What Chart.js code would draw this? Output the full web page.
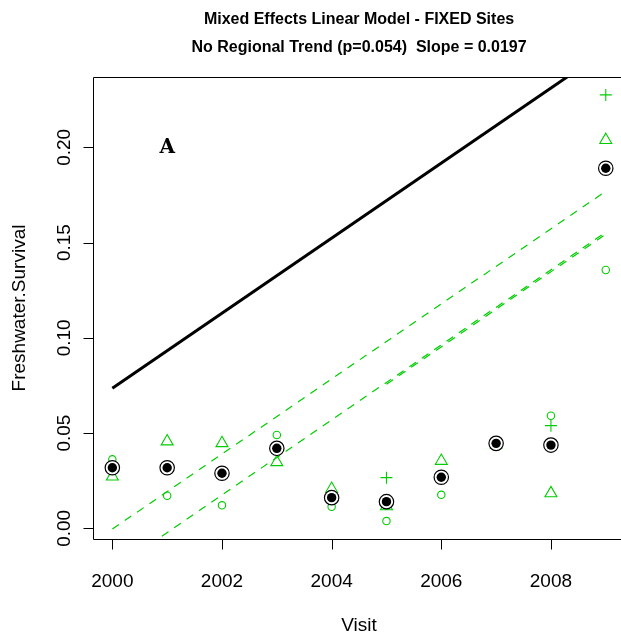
<!DOCTYPE html>
<html>
<head>
<meta charset="utf-8">
<script src="https://cdn.jsdelivr.net/npm/chart.js@4/dist/chart.umd.min.js"></script>
<style>
  html, body { margin: 0; padding: 0; background: #fff; overflow: hidden; width: 621px; height: 637px; }
  #wrap { position: absolute; left: 0; top: 0; width: 640px; height: 637px; }
</style>
</head>
<body>
<div id="wrap"><canvas id="c" width="640" height="637"></canvas></div>
<script>
// Survival by visit year, three sites plus the yearly mean
const years        = [2000, 2001, 2002, 2003, 2004, 2005, 2006, 2007, 2008, 2009];
const siteCircle   = [0.0362, 0.0171, 0.0121, 0.0490, 0.0113, 0.0038, 0.0176, 0.0448, 0.0591, 0.1356];
const siteTriangle = [0.0272, 0.0456, 0.0447, 0.0347, 0.0207, 0.0116, 0.0354, 0.0440, 0.0184, 0.2038];
const sitePlus     = [null, null, null, null, null, 0.0266, null, 0.0450, 0.0539, 0.2275];
const yearMean     = [0.0318, 0.0318, 0.0289, 0.0420, 0.0161, 0.0140, 0.0268, 0.0446, 0.0437, 0.1890];

// Fixed-effect fit and per-site fitted lines (slope 0.0197 per year)
const fixedX     = [2000, 2009];
const fixedY     = [0.0735, 0.2508];
const siteUpperX = [2000, 2009];
const siteUpperY = [-0.0004, 0.1769];
const siteLowerX = [2000, 2009];
const siteLowerY = [-0.0219, 0.1554];
const sitePlusX  = [2005, 2009];
const sitePlusY  = [0.0756, 0.1544];

// Axis ticks
const xTicks = [2000, 2002, 2004, 2006, 2008];
const xTickLabels = ['2000', '2002', '2004', '2006', '2008'];
const yTicks = [0, 0.05, 0.10, 0.15, 0.20];
const yTickLabels = ['0.00', '0.05', '0.10', '0.15', '0.20'];

const titleLines = ['Mixed Effects Linear Model - FIXED Sites', 'No Regional Trend (p=0.054)  Slope = 0.0197'];
const xTitle = 'Visit';
const yTitle = 'Freshwater.Survival';
const panelTag = { x: 2001, y: 0.20, text: 'A' };

const GREEN = '#00CD00';
const pts = (xs, ys) => xs.map((x, i) => ({ x, y: ys[i] })).filter(p => p.y !== null);

const rFrame = {
  id: 'rFrame',
  afterDraw(chart) {
    const { ctx, chartArea: a, scales: { x, y } } = chart;
    ctx.save();
    ctx.strokeStyle = '#000';
    ctx.fillStyle = '#000';
    ctx.lineWidth = 1;
    const L = Math.round(a.left) + 0.5, T = Math.round(a.top) + 0.5;
    const R = Math.round(a.right) + 0.5, B = Math.round(a.bottom) + 0.5;
    ctx.beginPath();
    ctx.moveTo(R, T); ctx.lineTo(L, T); ctx.lineTo(L, B); ctx.lineTo(R, B);
    ctx.stroke();

    // bottom axis
    ctx.beginPath();
    xTicks.forEach(v => {
      const px = Math.round(x.getPixelForValue(v)) + 0.5;
      ctx.moveTo(px, B); ctx.lineTo(px, B + 10);
    });
    // left axis
    yTicks.forEach(v => {
      const py = Math.round(y.getPixelForValue(v)) + 0.5;
      ctx.moveTo(L, py); ctx.lineTo(L - 10, py);
    });
    ctx.stroke();

    ctx.font = '19px "Liberation Sans", Arial, sans-serif';
    ctx.textAlign = 'center';
    ctx.textBaseline = 'alphabetic';
    xTicks.forEach((v, i) => ctx.fillText(xTickLabels[i], x.getPixelForValue(v), 587));
    yTicks.forEach((v, i) => {
      ctx.save();
      ctx.translate(70, y.getPixelForValue(v));
      ctx.rotate(-Math.PI / 2);
      ctx.fillText(yTickLabels[i], 0, 0);
      ctx.restore();
    });

    const cx = (a.left + a.right) / 2, cy = (a.top + a.bottom) / 2;
    ctx.fillText(xTitle, cx, 631);
    ctx.save();
    ctx.translate(25, cy);
    ctx.rotate(-Math.PI / 2);
    ctx.fillText(yTitle, 0, 0);
    ctx.restore();

    ctx.font = 'bold 16px "Liberation Sans", Arial, sans-serif';
    ctx.textBaseline = 'middle';
    ctx.fillText(titleLines[0], cx, 20);
    ctx.fillText(titleLines[1], cx, 48);

    ctx.font = 'bold 20px "DejaVu Serif", "Liberation Serif", serif';
    ctx.fillText(panelTag.text, x.getPixelForValue(panelTag.x), y.getPixelForValue(panelTag.y));
    ctx.restore();
  }
};

new Chart(document.getElementById('c'), {
  type: 'scatter',
  data: {
    datasets: [
      { label: 'mean', data: pts(years, yearMean), pointStyle: 'circle', pointRadius: 4.7,
        backgroundColor: '#000', borderColor: '#000', borderWidth: 0, order: 0 },
      { label: 'mean ring', data: pts(years, yearMean), pointStyle: 'circle', pointRadius: 7.2,
        backgroundColor: '#fff', borderColor: '#000', borderWidth: 1.2, order: 1 },
      { label: 'fixed', type: 'line', data: pts(fixedX, fixedY), borderColor: '#000', borderWidth: 3,
        pointRadius: 0, fill: false, clip: 0, order: 2 },
      { label: 'site upper', type: 'line', data: pts(siteUpperX, siteUpperY), borderColor: GREEN, borderWidth: 1.2,
        borderDash: [8, 7], pointRadius: 0, fill: false, clip: 0, order: 3 },
      { label: 'site lower', type: 'line', data: pts(siteLowerX, siteLowerY), borderColor: GREEN, borderWidth: 1.2,
        borderDash: [8, 7], pointRadius: 0, fill: false, clip: 0, order: 3 },
      { label: 'site plus line', type: 'line', data: pts(sitePlusX, sitePlusY), borderColor: GREEN, borderWidth: 1.2,
        borderDash: [8, 7], pointRadius: 0, fill: false, clip: 0, order: 3 },
      { label: 'circle', data: pts(years, siteCircle), pointStyle: 'circle', pointRadius: 3.7,
        backgroundColor: 'rgba(0,0,0,0)', borderColor: GREEN, borderWidth: 1.1, order: 4 },
      { label: 'triangle', data: pts(years, siteTriangle), pointStyle: 'triangle', pointRadius: 6.9,
        backgroundColor: 'rgba(0,0,0,0)', borderColor: GREEN, borderWidth: 1.1, order: 4 },
      { label: 'plus', data: pts(years, sitePlus), pointStyle: 'cross', pointRadius: 6,
        backgroundColor: 'rgba(0,0,0,0)', borderColor: GREEN, borderWidth: 1.1, order: 4 }
    ]
  },
  options: {
    responsive: false,
    animation: false,
    events: [],
    layout: { padding: { left: 92.6, top: 77, right: 14.5, bottom: 98 } },
    scales: {
      x: { type: 'linear', min: 1999.64, max: 2009.36, display: false },
      y: { type: 'linear', min: -0.0056, max: 0.2369, display: false }
    },
    plugins: { legend: { display: false }, tooltip: { enabled: false }, title: { display: false } }
  },
  plugins: [rFrame]
});
</script>
</body>
</html>
